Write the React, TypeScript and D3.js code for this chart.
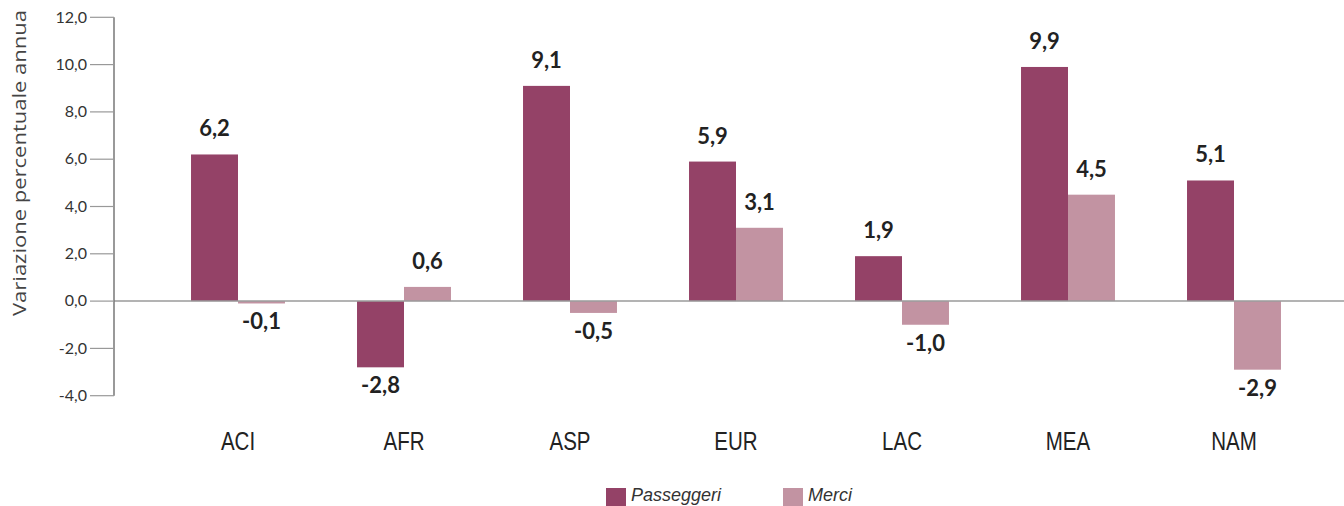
import React from "react";
import * as d3 from "d3";

const categories = ["ACI", "AFR", "ASP", "EUR", "LAC", "MEA", "NAM"];
const passeggeri = [6.2, -2.8, 9.1, 5.9, 1.9, 9.9, 5.1];
const merci = [-0.1, 0.6, -0.5, 3.1, -1.0, 4.5, -2.9];
const yTicks = [-4, -2, 0, 2, 4, 6, 8, 10, 12];
const seriesNames = ["Passeggeri", "Merci"];
const colors = ["#944267", "#c293a2"];

const W = 1344;
const H = 506;

const fmt = (v: number) => v.toFixed(1).replace(".", ",");

export default function App() {
  const y = d3.scaleLinear().domain([-4, 12]).range([395.7, 17.3]);
  const x = d3
    .scaleBand<string>()
    .domain(categories)
    .range([155, 1317])
    .paddingInner(0.434)
    .paddingOuter(0.217);
  const sub = d3.scaleBand<number>().domain([0, 1]).range([0, x.bandwidth()]);
  const axisX = 114;
  const series = [passeggeri, merci];
  const numFont = "Lato, 'Open Sans', sans-serif";

  return (
    <svg
      width={W}
      height={H}
      style={{ position: "absolute", left: 0, top: 0, background: "#fff" }}
    >
      {/* bars */}
      {series.map((vals, si) =>
        vals.map((v, i) => {
          const x0 = (x(categories[i]) as number) + (sub(si) as number);
          const y0 = y(Math.max(0, v));
          const h = Math.abs(y(v) - y(0));
          return (
            <rect
              key={`b${si}-${i}`}
              x={x0}
              y={y0}
              width={sub.bandwidth()}
              height={h}
              fill={colors[si]}
            />
          );
        })
      )}
      {/* zero line */}
      <line x1={axisX} x2={W} y1={y(0)} y2={y(0)} stroke="#9a9a9a" strokeWidth={1.5} />
      {/* y axis */}
      <line x1={axisX} x2={axisX} y1={y(12)} y2={y(-4)} stroke="#777" strokeWidth={1.5} />
      {yTicks.map((t) => (
        <g key={`t${t}`}>
          <line x1={axisX - 24} x2={axisX} y1={y(t)} y2={y(t)} stroke="#999" strokeWidth={1.2} />
          <text
            x={axisX - 27}
            y={y(t)}
            dy="0.33em"
            textAnchor="end"
            fontFamily={numFont}
            fontSize={16}
            fill="#333"
          >
            {fmt(t)}
          </text>
        </g>
      ))}
      <text
        transform={`translate(26, ${163}) rotate(-90)`}
        textAnchor="middle"
        fontFamily="'Open Sans', 'Noto Sans', sans-serif"
        fontSize={18.5}
        textLength={306}
        lengthAdjust="spacingAndGlyphs"
        fill="#444"
      >
        Variazione percentuale annua
      </text>
      {/* value labels */}
      {series.map((vals, si) =>
        vals.map((v, i) => {
          const cx = (x(categories[i]) as number) + (sub(si) as number) + sub.bandwidth() / 2;
          const ly = v >= 0 ? y(v) - 18 : y(v) + 26;
          return (
            <text
              key={`l${si}-${i}`}
              x={cx}
              y={ly}
              textAnchor="middle"
              fontFamily={numFont}
              fontWeight="bold"
              fontSize={22}
              fill="#222"
            >
              {fmt(v)}
            </text>
          );
        })
      )}
      {/* category labels */}
      {categories.map((c) => (
        <text
          key={`c${c}`}
          transform={`translate(${(x(c) as number) + x.bandwidth() / 2}, 450) scale(0.82, 1)`}
          textAnchor="middle"
          fontFamily="'Liberation Sans', Arial, sans-serif"
          fontSize={25}
          fill="#222"
        >
          {c}
        </text>
      ))}
      {/* legend */}
      {seriesNames.map((s, i) => {
        const lx = i === 0 ? 606 : 783;
        return (
          <g key={`lg${s}`}>
            <rect x={lx} y={488} width={20} height={20} fill={colors[i]} />
            <text
              x={lx + 25}
              y={501}
              fontFamily="'Liberation Sans', Arial, sans-serif"
              fontStyle="italic"
              fontSize={18}
              fill="#333"
            >
              {s}
            </text>
          </g>
        );
      })}
    </svg>
  );
}
